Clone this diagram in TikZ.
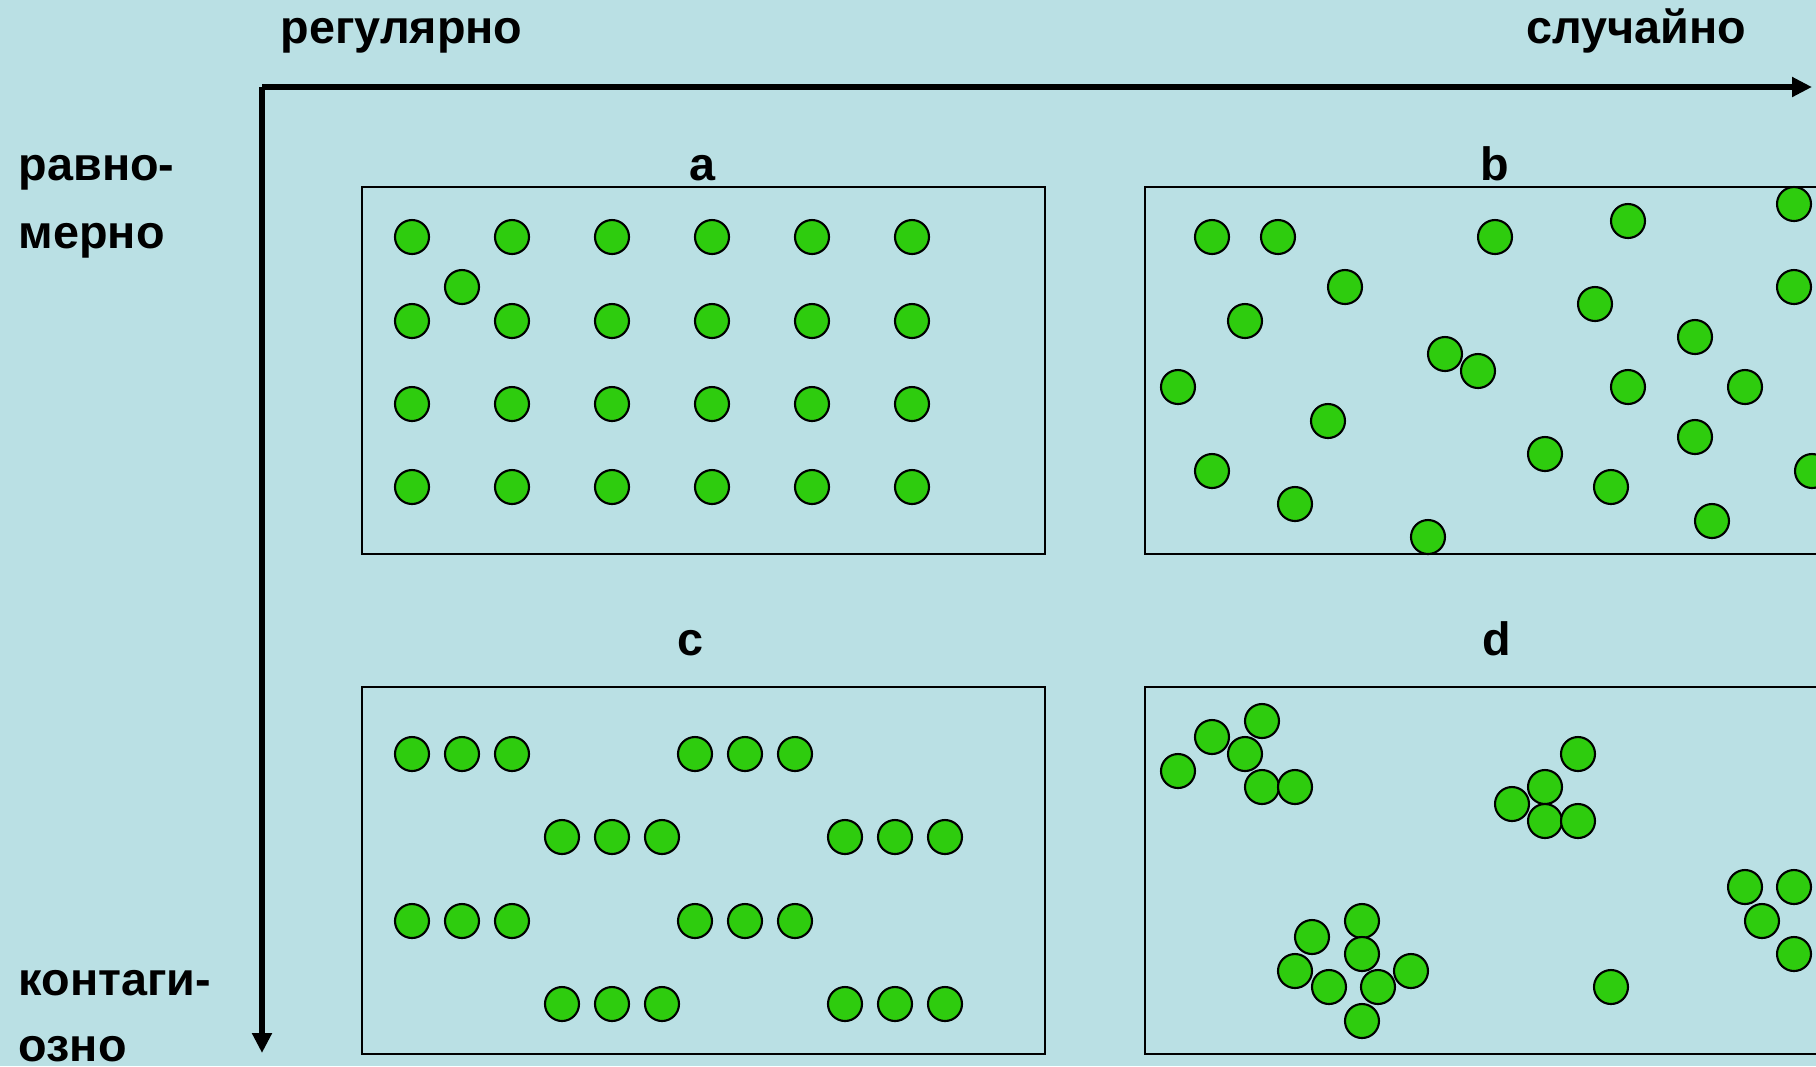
\documentclass[tikz,border=0pt]{standalone}
\usepackage{fontspec}
\setmainfont{Liberation Sans}
\usetikzlibrary{arrows.meta}
\definecolor{bgblue}{HTML}{BAE0E4}
\definecolor{dotgreen}{HTML}{2ECC0E}

\begin{document}
\begin{tikzpicture}[x=0.1mm, y=-0.1mm,
  dot/.style={fill=dotgreen, draw=black, line width=0.6pt},
  panel/.style={draw=black, line width=0.55pt},
  axis/.style={line width=1.9pt, -{Triangle[length=2mm,width=1.9mm]}},
  lbl/.style={font=\fontsize{13.3}{16}\selectfont\bfseries, inner sep=0pt}]
  \useasboundingbox (0,0) rectangle (1816,1066);
  \fill[bgblue] (0,0) rectangle (1816,1066);
  \clip (0,0) rectangle (1816,1066);

  % axes
  \coordinate (origin) at (262,87);
  \coordinate (xend) at (1812,87);
  \coordinate (yend) at (262,1053);
  \draw[axis] (origin) -- (xend);
  \draw[axis] (origin) -- (yend);

  % axis labels
  \node[lbl, anchor=base west] (reg)  at (280,43)   {регулярно};
  \node[lbl, anchor=base west] (rnd)  at (1526,43)  {случайно};
  \node[lbl, anchor=base west] (uni1) at (18,180)   {равно-};
  \node[lbl, anchor=base west] (uni2) at (18,248)   {мерно};
  \node[lbl, anchor=base west] (con1) at (18,995)   {контаги-};
  \node[lbl, anchor=base west] (con2) at (18,1061)  {озно};

  % panels
  \draw[panel] (362,187) rectangle (1045,554);
  \draw[panel] (1145,187) rectangle (1850,554);
  \draw[panel] (362,687) rectangle (1045,1054);
  \draw[panel] (1145,687) rectangle (1850,1054);
  \node[lbl, anchor=base] (la) at (702,180)  {a};
  \node[lbl, anchor=base] (lb) at (1495,180) {b};
  \node[lbl, anchor=base] (lc) at (690,655)  {c};
  \node[lbl, anchor=base] (ld) at (1497,655) {d};

  % a: regular grid
  \foreach \x in {412,512,612,712,812,912}
    \foreach \y in {237,321,404,487}
      \draw[dot] (\x,\y) circle (1.7mm);
  \draw[dot] (462,287) circle (1.7mm);

  % b: random
  \foreach \x/\y in {1212/237, 1278/237, 1495/237, 1628/221, 1794/204,
    1345/287, 1595/304, 1794/287, 1245/321, 1445/354, 1478/371,
    1695/337, 1178/387, 1628/387, 1745/387, 1328/421, 1695/437,
    1545/454, 1212/471, 1812/471, 1611/487, 1295/504, 1712/521, 1428/537}
      \draw[dot] (\x,\y) circle (1.7mm);

  % c: regular groups of three
  \foreach \sx/\y in {412/754, 695/754, 562/837, 845/837,
    412/921, 695/921, 562/1004, 845/1004}
    \foreach \k in {0,1,2}
      \draw[dot] (\sx+50*\k,\y) circle (1.7mm);

  % d: clumped
  \foreach \x/\y in {1262/721, 1212/737, 1245/754, 1178/771, 1262/787, 1295/787,
    1578/754, 1545/787, 1512/804, 1545/821, 1578/821,
    1745/887, 1794/887, 1762/921, 1794/954,
    1362/921, 1312/937, 1362/954, 1295/971, 1411/971, 1329/987, 1378/987,
    1362/1021, 1611/987}
      \draw[dot] (\x,\y) circle (1.7mm);
\end{tikzpicture}
\end{document}
